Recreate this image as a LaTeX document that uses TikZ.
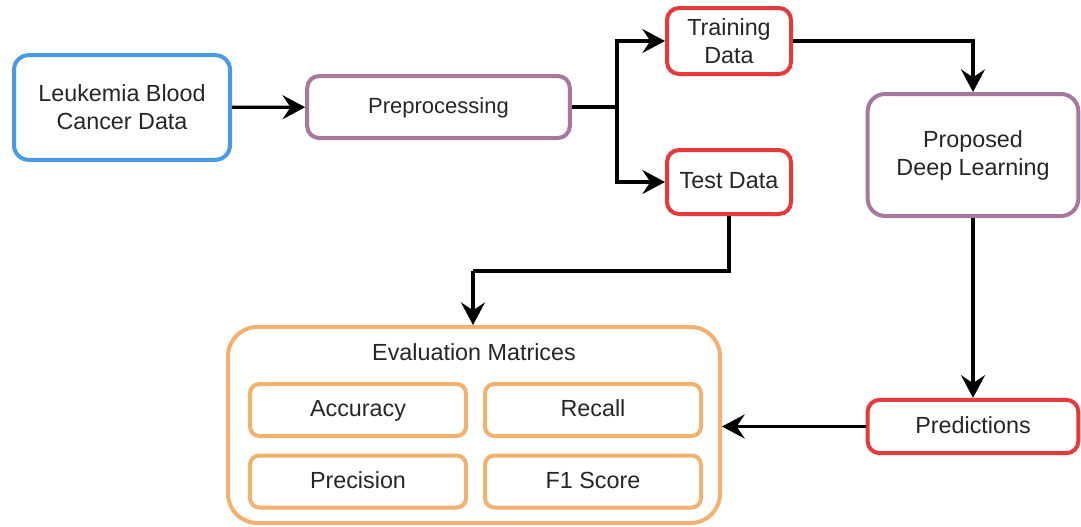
\documentclass[tikz,border=0pt]{standalone}
\usepackage{fontspec}
\setmainfont{Liberation Sans}
\usetikzlibrary{arrows.meta}
\definecolor{cblue}{HTML}{4A9BE6}
\definecolor{cpurple}{HTML}{A8779E}
\definecolor{cred}{HTML}{E6393C}
\definecolor{corange}{HTML}{F2B16E}
\definecolor{ctext}{HTML}{262626}
\tikzset{
  box/.style={draw, line width=3pt, fill=white, inner sep=0pt, align=center,
    text=ctext, font=\fontsize{17.5}{21}\selectfont},
  one/.style={text height=13.5pt, text depth=3.5pt},
  conn/.style={line width=2.4pt, draw=black,
    -{Stealth[length=17pt, width=18pt, inset=6pt]}},
  line/.style={line width=2.4pt, draw=black}
}
\begin{document}
\begin{tikzpicture}[x=0.75pt, y=-0.75pt]
\useasboundingbox (0,0) rectangle (1081,526);

\node[box, draw=cblue, rounded corners=11pt, minimum width=162pt, minimum height=78.5pt]
  (leuk) at (122,107.5) {Leukemia Blood\\Cancer Data};
\node[box, one, draw=cpurple, rounded corners=9pt, minimum width=197pt, minimum height=46.5pt,
  font=\fontsize{16.5}{21}\selectfont]
  (pre) at (438.5,107) {Preprocessing};
\node[box, draw=cred, rounded corners=9pt, minimum width=93pt, minimum height=49.5pt]
  (train) at (729,41) {Training\\Data};
\node[box, one, draw=cred, rounded corners=9pt, minimum width=93pt, minimum height=48pt]
  (test) at (729,182) {Test Data};
\node[box, draw=cpurple, rounded corners=13pt, minimum width=158pt, minimum height=91.5pt]
  (dl) at (973,155) {Proposed\\Deep Learning};
\node[box, one, draw=cred, rounded corners=9pt, minimum width=158pt, minimum height=40pt]
  (pred) at (973,426.5) {Predictions};

\node[box, draw=corange, rounded corners=22pt, minimum width=369pt, minimum height=147pt]
  (eval) at (474,425) {};
\node[one, text=ctext, font=\fontsize{17.5}{21}\selectfont] (evt) at (474,354) {Evaluation Matrices};
\node[box, one, draw=corange, rounded corners=7pt, minimum width=162pt, minimum height=39pt]
  (acc) at (358,410) {Accuracy};
\node[box, one, draw=corange, rounded corners=7pt, minimum width=162pt, minimum height=39pt]
  (rec) at (593,410) {Recall};
\node[box, one, draw=corange, rounded corners=7pt, minimum width=162pt, minimum height=39pt]
  (prec) at (358,481.5) {Precision};
\node[box, one, draw=corange, rounded corners=7pt, minimum width=162pt, minimum height=39pt]
  (f1) at (593,481.5) {F1 Score};

\coordinate (split) at (617,107);
\coordinate (tb) at (729,271);
\coordinate (tl) at (473,271);

\draw[conn] (leuk) -- (pre);
\draw[line] (pre.east) -- (split);
\draw[conn] (split) |- (train.west);
\draw[conn] (split) |- (test.west);
\draw[conn] (train.east) -| (dl.north);
\draw[line] (test.south) -- (tb) -- (tl);
\draw[conn] (tl) -- (tl |- eval.north);
\draw[conn] (dl.south) -- (pred.north);
\draw[conn] (pred.west) -- (pred.west -| eval.east);
\end{tikzpicture}
\end{document}
